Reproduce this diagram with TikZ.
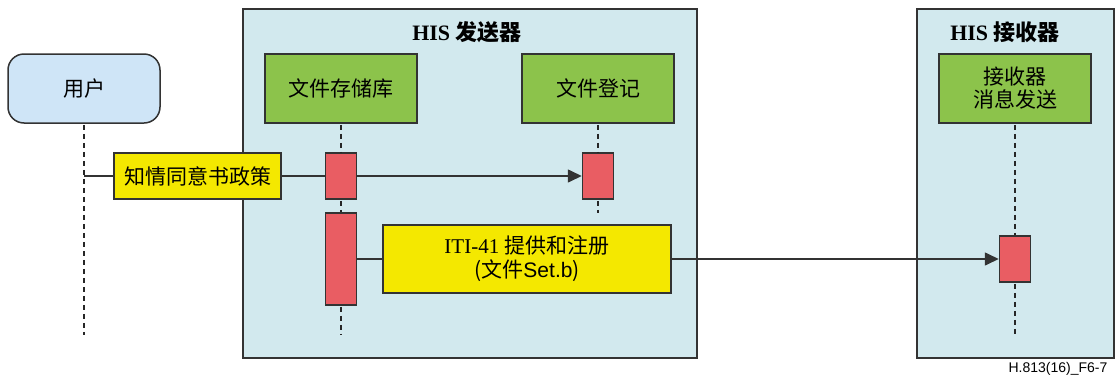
\documentclass[tikz,border=0pt]{standalone}
\usepackage{fontspec}
\setmainfont{Liberation Serif}
\setsansfont{Liberation Sans}
\newfontfamily\cjk{Noto Sans CJK SC}
\usetikzlibrary{arrows.meta}
\definecolor{hisbg}{HTML}{D2E9EE}
\definecolor{userbg}{HTML}{CFE5F7}
\definecolor{actorgreen}{HTML}{8CC34B}
\definecolor{msgyellow}{HTML}{F4E800}
\definecolor{actred}{HTML}{E95D63}
\definecolor{edge}{HTML}{333333}
\tikzset{
  frame/.style={draw=edge, fill=hisbg, line width=1.6pt, inner sep=0pt},
  titletext/.style={font=\fontsize{22}{26}\selectfont\bfseries, inner sep=0pt},
  userbox/.style={draw=edge, fill=userbg, line width=1.5pt, rounded corners=16pt,
    minimum width=152pt, minimum height=69pt, inner sep=0pt, font=\fontsize{21}{24}\selectfont\cjk},
  actorbox/.style={draw=edge, fill=actorgreen, line width=1.5pt,
    minimum width=152pt, minimum height=69pt, inner sep=0pt, align=center,
    font=\fontsize{21}{23}\selectfont\cjk},
  actbox/.style={draw=edge, fill=actred, line width=1.5pt,
    minimum width=31pt, inner sep=0pt},
  msgbox/.style={draw=edge, fill=msgyellow, line width=1.5pt, inner sep=0pt, align=center,
    font=\fontsize{21}{24}\selectfont},
  lifeline/.style={draw=black!85, line width=2pt, dash pattern=on 5pt off 4pt, dash phase=-1pt},
  conn/.style={draw=edge, line width=1.6pt},
  arr/.style={conn, -{Triangle[length=14pt,width=13pt]}},
}
\begin{document}
\begin{tikzpicture}[x=1pt,y=-1pt]
\useasboundingbox (0,0) rectangle (1116,378);
% frames
\node[frame, minimum width=454pt, minimum height=349pt] (sender) at (470,183.5) {};
\node[frame, minimum width=197pt, minimum height=349pt] (receiver) at (1015.5,183.5) {};
\node[titletext] (sendertitle) at (467,32) {HIS {\cjk 发送器}};
\node[titletext] (receivertitle) at (1005,32) {HIS {\cjk 接收器}};
% actors
\node[userbox] (user) at (84,88.5) {用户};
\node[actorbox] (repo) at (341,88.5) {文件存储库};
\node[actorbox] (reg) at (598,88.5) {文件登记};
\node[actorbox] (rmsg) at (1015,88.5) {接收器\\消息发送};
% activations
\node[actbox, minimum height=46pt] (act1) at (341,176) {};
\node[actbox, minimum height=46pt] (act2) at (598,176) {};
\node[actbox, minimum height=92pt] (act3) at (341,259) {};
\node[actbox, minimum height=46pt] (act4) at (1015,259) {};
% lifeline end points
\coordinate (userend) at (84,335);
\coordinate (u1) at (84,176);
\coordinate (repoend) at (341,335);
\coordinate (regend) at (598,213);
\coordinate (rmsgend) at (1015,335);
% lifelines
\draw[lifeline] (user.south) -- (userend);
\draw[lifeline] (repo.south) -- (act1.north);
\draw[lifeline] (act1.south) -- (act3.north);
\draw[lifeline] (act3.south) -- (repoend);
\draw[lifeline] (reg.south) -- (act2.north);
\draw[lifeline] (act2.south) -- (regend);
\draw[lifeline] (rmsg.south) -- (act4.north);
\draw[lifeline] (act4.south) -- (rmsgend);
% messages
\node[msgbox, minimum width=167pt, minimum height=46pt] (consent) at (197.5,176) {{\cjk 知情同意书政策}};
\node[msgbox, minimum width=288pt, minimum height=68pt] (iti) at (527,259)
  {ITI-41 {\cjk 提供和注册}\\{\cjk (文件}{\sffamily Set.b}{\cjk )}};
\draw[conn] (u1) -- (consent.west);
\draw[conn] (consent.east) -- (act1.west);
\draw[arr] (act1.east) -- (act2.west);
\draw[conn] (act3.east) -- (iti.west);
\draw[arr] (iti.east) -- (act4.west);
% footer
\node[font=\sffamily\fontsize{14}{16}\selectfont, inner sep=0pt] (footer) at (1058,369) {H.813(16)\_F6-7};
\end{tikzpicture}
\end{document}
